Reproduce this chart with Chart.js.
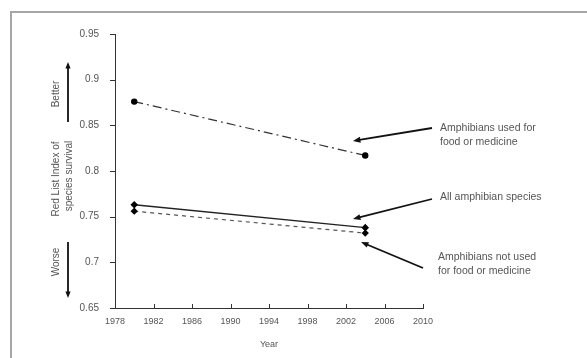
<!DOCTYPE html>
<html>
<head>
<meta charset="utf-8">
<script src="https://cdn.jsdelivr.net/npm/chart.js@4/dist/chart.umd.min.js"></script>
<style>
  html, body { margin: 0; padding: 0; background: #fff; }
  #wrap { position: relative; width: 587px; height: 358px; }
</style>
</head>
<body>
<div id="wrap"><canvas id="c" width="587" height="358"></canvas></div>
<script>
// Red List Index of species survival for amphibians, 1980 and 2004
const years = [1980, 2004];
const usedForFood = [0.876, 0.817];
const allSpecies = [0.763, 0.738];
const notUsedForFood = [0.756, 0.732];

const xTicks = [1978, 1982, 1986, 1990, 1994, 1998, 2002, 2006, 2010];
const yTicks = [0.65, 0.7, 0.75, 0.8, 0.85, 0.9, 0.95];

const seriesLabels = [
  ['Amphibians used for', 'food or medicine'],
  ['All amphibian species'],
  ['Amphibians not used', 'for food or medicine']
];

const FONT = '"Liberation Sans", Arial, sans-serif';
const TEXT = '#555';

function pts(vals) { return years.map((y, i) => ({ x: y, y: vals[i] })); }

function arrow(ctx, x1, y1, x2, y2, head) {
  const a = Math.atan2(y2 - y1, x2 - x1);
  ctx.beginPath();
  ctx.moveTo(x1, y1);
  ctx.lineTo(x2 - Math.cos(a) * head * 0.8, y2 - Math.sin(a) * head * 0.8);
  ctx.stroke();
  ctx.beginPath();
  ctx.moveTo(x2, y2);
  ctx.lineTo(x2 - head * Math.cos(a - 0.38), y2 - head * Math.sin(a - 0.38));
  ctx.lineTo(x2 - head * Math.cos(a + 0.38), y2 - head * Math.sin(a + 0.38));
  ctx.closePath();
  ctx.fill();
}

const decorations = {
  id: 'decorations',
  beforeDraw(chart) {
    const ctx = chart.ctx;
    ctx.save();
    // frame
    ctx.strokeStyle = '#a6a6a6';
    ctx.lineWidth = 2;
    ctx.beginPath();
    ctx.moveTo(11, 360);
    ctx.lineTo(11, 12);
    ctx.lineTo(590, 12);
    ctx.stroke();
    ctx.restore();
  },
  afterDraw(chart) {
    const ctx = chart.ctx;
    const xs = chart.scales.x, ys = chart.scales.y;
    ctx.save();
    // tick marks: outward on the value axis, inward on the year axis
    ctx.strokeStyle = '#333';
    ctx.lineWidth = 1;
    yTicks.forEach(v => {
      const p = Math.round(ys.getPixelForValue(v)) + 0.5;
      ctx.beginPath(); ctx.moveTo(xs.left - 5, p); ctx.lineTo(xs.left, p); ctx.stroke();
    });
    xTicks.forEach(v => {
      const p = Math.round(xs.getPixelForValue(v)) + 0.5;
      ctx.beginPath(); ctx.moveTo(p, ys.bottom - 4); ctx.lineTo(p, ys.bottom); ctx.stroke();
    });

    // rotated axis text and Better / Worse arrows
    ctx.fillStyle = TEXT;
    ctx.font = '10px ' + FONT;
    ctx.textAlign = 'center';
    ctx.textBaseline = 'middle';
    const rot = (t, x, y) => {
      ctx.save(); ctx.translate(x, y); ctx.rotate(-Math.PI / 2); ctx.fillText(t, 0, 0); ctx.restore();
    };
    rot('Red List Index of', 56, 179);
    rot('species survival', 69, 176);
    rot('Better', 56, 94);
    rot('Worse', 56, 262);

    ctx.strokeStyle = '#111';
    ctx.fillStyle = '#111';
    ctx.lineWidth = 1.8;
    arrow(ctx, 68, 122, 68, 62, 7);
    arrow(ctx, 68, 242, 68, 298, 7);

    // callouts pointing at each series
    arrow(ctx, 432, 128, 353, 141, 8);
    arrow(ctx, 432, 199, 353, 219, 8);
    arrow(ctx, 423, 268, 361, 242, 8);

    ctx.fillStyle = TEXT;
    ctx.textAlign = 'left';
    ctx.font = '10.5px ' + FONT;
    const blocks = [[440, 128], [440, 197], [438, 257]];
    seriesLabels.forEach((lines, i) => {
      lines.forEach((t, j) => ctx.fillText(t, blocks[i][0], blocks[i][1] + j * 14.5));
    });
    ctx.restore();
  }
};

new Chart(document.getElementById('c'), {
  type: 'scatter',
  data: {
    datasets: [
      {
        label: seriesLabels[0].join(' '),
        data: pts(usedForFood),
        showLine: true,
        borderColor: '#333',
        borderWidth: 1.2,
        borderDash: [9, 4, 2, 4],
        pointStyle: 'circle',
        pointRadius: 2.6,
        pointBackgroundColor: '#000',
        pointBorderColor: '#000'
      },
      {
        label: seriesLabels[1].join(' '),
        data: pts(allSpecies),
        showLine: true,
        borderColor: '#222',
        borderWidth: 1.4,
        pointStyle: 'rectRot',
        pointRadius: 2.8,
        pointBackgroundColor: '#000',
        pointBorderColor: '#000'
      },
      {
        label: seriesLabels[2].join(' '),
        data: pts(notUsedForFood),
        showLine: true,
        borderColor: '#555',
        borderWidth: 1.2,
        borderDash: [4, 4],
        pointStyle: 'rectRot',
        pointRadius: 2.8,
        pointBackgroundColor: '#000',
        pointBorderColor: '#000'
      }
    ]
  },
  options: {
    responsive: false,
    animation: false,
    layout: { padding: { left: 0, right: 164, top: 34, bottom: 0 } },
    plugins: { legend: { display: false }, tooltip: { enabled: false } },
    scales: {
      x: {
        type: 'linear',
        min: 1978, max: 2010,
        afterBuildTicks: s => { s.ticks = xTicks.map(v => ({ value: v })); },
        afterFit: s => { s.height = 50; },
        grid: { display: false },
        border: { display: true, color: '#333', width: 1 },
        ticks: { color: TEXT, font: { family: FONT, size: 9 }, padding: 0, maxRotation: 0, autoSkip: false,
                 callback: v => String(v) },
        title: { display: true, text: 'Year', color: TEXT, font: { family: FONT, size: 9 }, padding: { top: 4, bottom: 8 } }
      },
      y: {
        min: 0.65, max: 0.95,
        afterBuildTicks: s => { s.ticks = yTicks.map(v => ({ value: v })); },
        afterFit: s => { s.width = 115; },
        grid: { display: false },
        border: { display: true, color: '#333', width: 1 },
        ticks: { color: TEXT, font: { family: FONT, size: 10 }, padding: 8,
                 callback: v => String(Math.round(v * 100) / 100) }
      }
    }
  },
  plugins: [decorations]
});
</script>
</body>
</html>
